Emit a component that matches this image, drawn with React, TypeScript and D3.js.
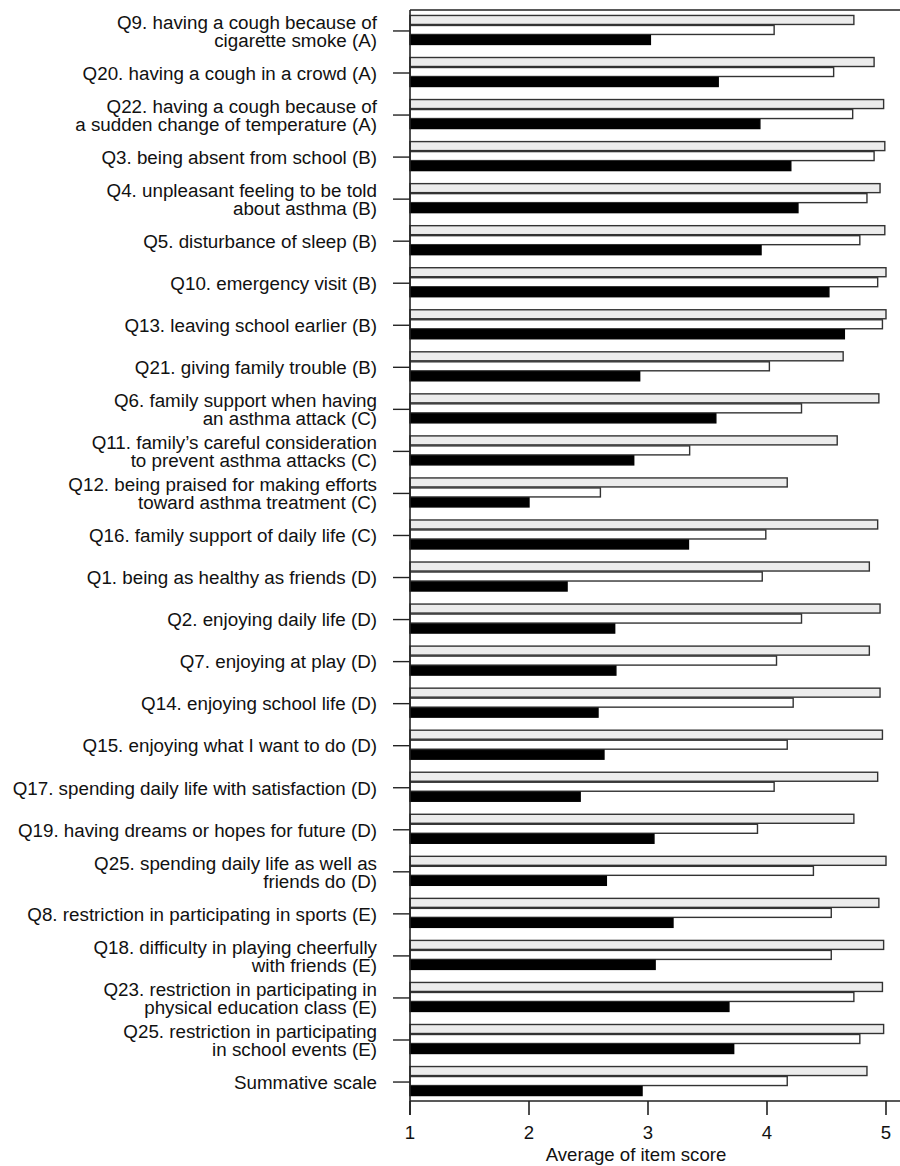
import React from "react";
import * as d3 from "d3";

const categories: string[] = [
  "Q9. having a cough because of\ncigarette smoke (A)",
  "Q20. having a cough in a crowd (A)",
  "Q22. having a cough because of\na sudden change of temperature (A)",
  "Q3. being absent from school (B)",
  "Q4. unpleasant feeling to be told\nabout asthma (B)",
  "Q5. disturbance of sleep (B)",
  "Q10. emergency visit (B)",
  "Q13. leaving school earlier (B)",
  "Q21. giving family trouble (B)",
  "Q6. family support when having\nan asthma attack (C)",
  "Q11. family’s careful consideration\nto prevent asthma attacks (C)",
  "Q12. being praised for making efforts\ntoward asthma treatment (C)",
  "Q16. family support of daily life (C)",
  "Q1. being as healthy as friends (D)",
  "Q2. enjoying daily life (D)",
  "Q7. enjoying at play (D)",
  "Q14. enjoying school life (D)",
  "Q15. enjoying what I want to do (D)",
  "Q17. spending daily life with satisfaction (D)",
  "Q19. having dreams or hopes for future (D)",
  "Q25. spending daily life as well as\nfriends do (D)",
  "Q8. restriction in participating in sports (E)",
  "Q18. difficulty in playing cheerfully\nwith friends (E)",
  "Q23. restriction in participating in\nphysical education class (E)",
  "Q25. restriction in participating\nin school events (E)",
  "Summative scale",
];

const seriesKeys = ["groupA", "groupB", "groupC"];

const groupA: number[] = [
  4.73, 4.9, 4.98, 4.99, 4.95, 4.99, 5.0, 5.0, 4.64, 4.94, 4.59, 4.17, 4.93,
  4.86, 4.95, 4.86, 4.95, 4.97, 4.93, 4.73, 5.0, 4.94, 4.98, 4.97, 4.98, 4.84,
];
const groupB: number[] = [
  4.06, 4.56, 4.72, 4.9, 4.84, 4.78, 4.93, 4.97, 4.02, 4.29, 3.35, 2.6, 3.99,
  3.96, 4.29, 4.08, 4.22, 4.17, 4.06, 3.92, 4.39, 4.54, 4.54, 4.73, 4.78, 4.17,
];
const groupC: number[] = [
  3.02, 3.59, 3.94, 4.2, 4.26, 3.95, 4.52, 4.65, 2.93, 3.57, 2.88, 2.0, 3.34,
  2.32, 2.72, 2.73, 2.58, 2.63, 2.43, 3.05, 2.65, 3.21, 3.06, 3.68, 3.72, 2.95,
];

const xTicks: number[] = [1, 2, 3, 4, 5];
const xTitle = "Average of item score";

const fills: Record<string, string> = {
  groupA: "#ececec",
  groupB: "#ffffff",
  groupC: "#000000",
};

export default function App() {
  const W = 900;
  const H = 1166;
  const left = 410;
  const right = 886;
  const top = 10;
  const bottom = 1101;
  const font = "'Liberation Sans', Arial, Helvetica, sans-serif";

  const x = d3.scaleLinear().domain([1, 5]).range([left, right]);
  const y0 = d3
    .scaleBand<string>()
    .domain(categories)
    .range([top, bottom])
    .paddingInner(0.2865)
    .paddingOuter(0.118);
  const y1 = d3
    .scaleBand<string>()
    .domain(seriesKeys)
    .range([0, y0.bandwidth()])
    .padding(0);

  const values: Record<string, number[]> = { groupA, groupB, groupC };

  return (
    <svg
      width={W}
      height={H}
      style={{ position: "absolute", left: 0, top: 0, background: "#fff" }}
      fontFamily={font}
    >
      {/* bars */}
      {categories.map((c, i) => (
        <g key={c} transform={`translate(0,${y0(c)})`}>
          {seriesKeys.map((k) => (
            <rect
              key={k}
              x={x(1)}
              y={(y1(k) as number) + 0.5}
              width={x(values[k][i]) - x(1)}
              height={y1.bandwidth() - 1}
              fill={fills[k]}
              stroke={k === "groupC" ? "#000" : "#333"}
              strokeWidth={1.4}
            />
          ))}
        </g>
      ))}
      {/* frame lines */}
      <line x1={left} x2={W} y1={top} y2={top} stroke="#222" strokeWidth={1.4} />
      <line x1={left} x2={W} y1={bottom} y2={bottom} stroke="#222" strokeWidth={1.4} />
      <line x1={left} x2={left} y1={top} y2={bottom + 14} stroke="#222" strokeWidth={1.6} />
      {/* y ticks and labels */}
      {categories.map((c) => {
        const cy = (y0(c) as number) + y0.bandwidth() / 2 + 1;
        const lines = c.split("\n");
        return (
          <g key={"l" + c}>
            <line x1={left - 17} x2={left} y1={cy} y2={cy} stroke="#222" strokeWidth={1.4} />
            <text x={377} y={cy} textAnchor="end" fontSize={18.8} fill="#111">
              {lines.map((ln, j) => (
                <tspan
                  key={j}
                  x={377}
                  y={cy + (j - (lines.length - 1) / 2) * 18}
                  dy="0.36em"
                >
                  {ln}
                </tspan>
              ))}
            </text>
          </g>
        );
      })}
      {/* x ticks */}
      {xTicks.map((t) => (
        <g key={t}>
          <line x1={x(t)} x2={x(t)} y1={bottom} y2={bottom + 14} stroke="#222" strokeWidth={1.6} />
          <text x={x(t)} y={1139} textAnchor="middle" fontSize={18.6} fill="#111">
            {t}
          </text>
        </g>
      ))}
      <text x={636} y={1161} textAnchor="middle" fontSize={18.6} fill="#111">
        {xTitle}
      </text>
    </svg>
  );
}
